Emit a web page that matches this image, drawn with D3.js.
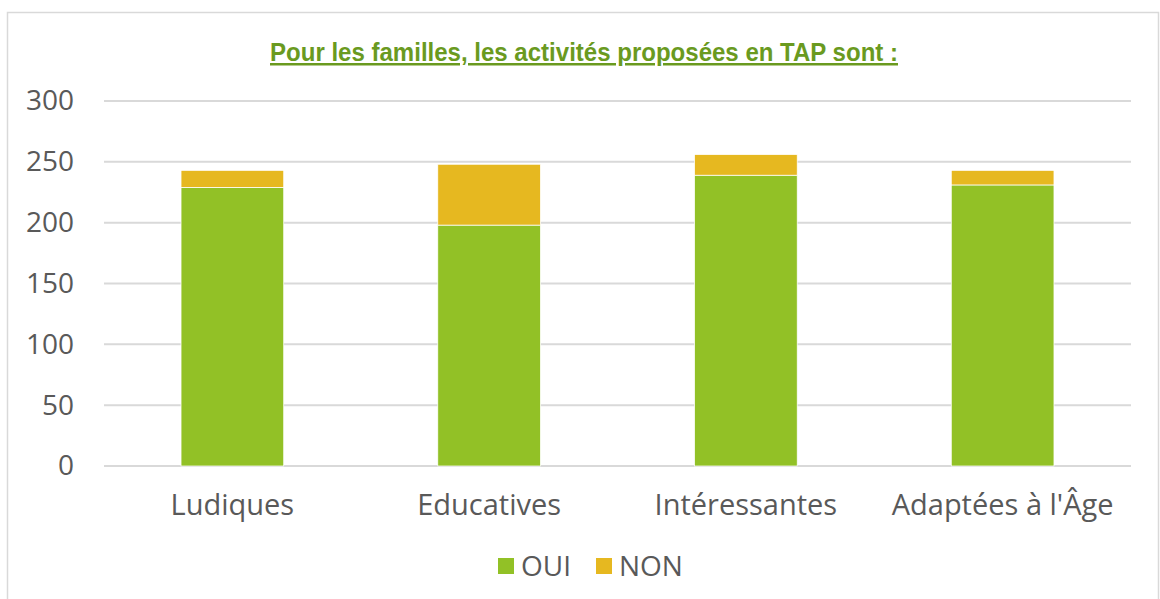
<!DOCTYPE html>
<html><head><meta charset="utf-8">
<script src="https://cdn.jsdelivr.net/npm/d3@7"></script>
<style>body{margin:0;background:#fff;}svg{display:block;}</style>
</head><body>
<script>
const categories = ["Ludiques", "Educatives", "Intéressantes", "Adaptées à l'Âge"];
const oui = [229, 198, 239, 231];
const non = [14, 50, 17, 12];
const seriesNames = ["OUI", "NON"];
const yTicks = [0, 50, 100, 150, 200, 250, 300];
const title = "Pour les familles, les activités proposées en TAP sont :";

const W = 1160, H = 599;
const FONT = "'Open Sans', 'Noto Sans', sans-serif";
const colors = {OUI: "#92C126", NON: "#E6B820"};
const svg = d3.select("body").append("svg").attr("width", W).attr("height", H);
svg.append("rect").attr("x", 7.5).attr("y", 12.5).attr("width", 1151).attr("height", 620)
  .attr("fill", "#fff").attr("stroke", "#d9d9d9").attr("stroke-width", 1.5);

const pl = 104, pr = 1131, pt = 101, pb = 466;
const x = d3.scaleBand().domain(categories).range([pl, pr]).paddingInner(0.6).paddingOuter(0.3);
const y = d3.scaleLinear().domain([0, 300]).range([pb, pt]);

const grid = svg.append("g");
grid.selectAll("line").data(yTicks).join("line")
  .attr("x1", pl).attr("x2", pr)
  .attr("y1", d => y(d)).attr("y2", d => y(d))
  .attr("stroke", "#d9d9d9").attr("stroke-width", 2);

const yAxis = svg.append("g").attr("transform", `translate(${pl},0)`)
  .call(d3.axisLeft(y).tickValues(yTicks).tickSize(0).tickPadding(30));
yAxis.select(".domain").remove();
yAxis.selectAll("text").attr("font-family", FONT).attr("font-size", 28).attr("fill", "#595959");

const data = categories.map((c, i) => ({cat: c, OUI: oui[i], NON: non[i]}));
const stacked = d3.stack().keys(seriesNames)(data);
svg.append("g").selectAll("g").data(stacked).join("g")
  .attr("fill", s => colors[s.key])
  .selectAll("rect").data(s => s.map(d => ({...d, key: s.key}))).join("rect")
  .attr("x", d => x(d.data.cat)).attr("width", x.bandwidth())
  .attr("y", d => y(d[1])).attr("height", d => y(d[0]) - y(d[1]))
  .attr("stroke", "#fff").attr("stroke-width", 0.75);

const xAxis = svg.append("g").attr("transform", `translate(0,${pb})`)
  .call(d3.axisBottom(x).tickSize(0).tickPadding(0));
xAxis.select(".domain").remove();
xAxis.selectAll("text").attr("font-family", FONT).attr("font-size", 29).attr("fill", "#595959")
  .attr("dy", null).attr("y", 49);

svg.append("text").attr("x", 584).attr("y", 61).attr("text-anchor", "middle")
  .attr("font-family", "'Liberation Sans Narrow', 'Liberation Sans', Arial, sans-serif")
  .attr("font-weight", "bold").attr("font-size", 25)
  .attr("textLength", 628).attr("lengthAdjust", "spacingAndGlyphs")
  .attr("fill", "#6A9A1F").attr("text-decoration", "underline").text(title);

const leg = svg.append("g");
const legX = [498, 596];
seriesNames.forEach((s, i) => {
  leg.append("rect").attr("x", legX[i]).attr("y", 558).attr("width", 16).attr("height", 16).attr("fill", colors[s]);
  leg.append("text").attr("x", legX[i] + 23).attr("y", 576).attr("font-family", FONT)
    .attr("font-size", 28).attr("fill", "#595959").text(s);
});
</script>
</body></html>
